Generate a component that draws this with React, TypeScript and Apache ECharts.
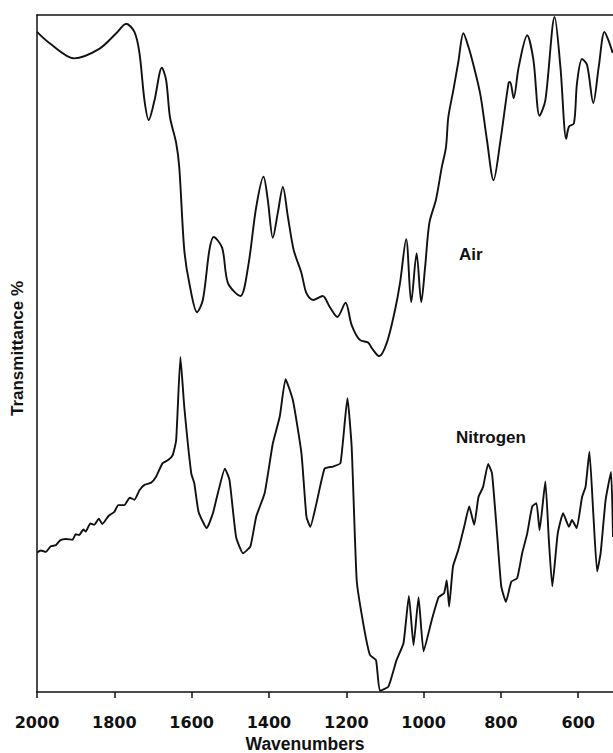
import React, { useEffect, useRef } from "react";
import * as echarts from "echarts";

// Wavenumbers (cm-1) and transmittance (arbitrary %)
const airWn = [2000, 1969, 1904, 1839, 1795, 1769, 1748, 1735, 1722, 1711, 1696, 1677, 1666, 1656, 1640, 1632, 1619, 1606, 1586, 1571, 1554, 1543, 1521, 1506, 1474, 1454, 1433, 1414, 1403, 1390, 1377, 1364, 1351, 1336, 1316, 1303, 1286, 1261, 1243, 1223, 1202, 1186, 1165, 1143, 1134, 1115, 1095, 1074, 1061, 1045, 1032, 1018, 1006, 996, 985, 968, 953, 942, 936, 923, 910, 897, 884, 871, 853, 836, 819, 802, 780, 776, 767, 754, 732, 716, 700, 685, 661, 646, 631, 624, 611, 603, 590, 577, 561, 547, 532, 520, 511];
const airT = [97.5, 95.9, 93.6, 95.0, 97.3, 98.7, 97.5, 94.4, 87.4, 84.5, 87.4, 92.2, 90.4, 84.9, 81.1, 77.5, 65.3, 60.4, 56.1, 57.9, 65.3, 67.2, 65.6, 60.4, 58.5, 62.8, 71.6, 76.1, 72.7, 67.1, 70.8, 74.6, 70.2, 65.3, 61.9, 58.9, 57.9, 58.5, 56.9, 55.4, 57.5, 54.2, 52.0, 51.6, 50.8, 49.6, 51.6, 56.4, 60.4, 66.9, 57.6, 64.8, 57.6, 62.8, 69.3, 72.7, 77.5, 80.5, 84.9, 88.9, 93.1, 97.3, 95.3, 92.6, 88.2, 81.5, 75.6, 81.1, 90.0, 90.1, 87.7, 92.3, 97.0, 93.4, 85.1, 87.4, 99.7, 92.3, 81.7, 83.5, 84.0, 90.0, 93.5, 92.6, 87.0, 92.3, 97.5, 96.0, 94.4];

const n2Wn = [2000, 1990, 1977, 1965, 1951, 1940, 1926, 1908, 1900, 1891, 1880, 1874, 1862, 1852, 1840, 1831, 1815, 1800, 1790, 1774, 1760, 1748, 1735, 1722, 1705, 1692, 1675, 1660, 1649, 1640, 1629, 1619, 1601, 1593, 1582, 1561, 1545, 1532, 1514, 1502, 1485, 1467, 1448, 1433, 1411, 1390, 1372, 1357, 1338, 1316, 1303, 1293, 1277, 1256, 1234, 1215, 1197, 1186, 1173, 1156, 1139, 1123, 1113, 1091, 1070, 1052, 1038, 1026, 1013, 1000, 979, 961, 947, 940, 934, 924, 910, 895, 882, 869, 858, 846, 833, 823, 810, 799, 787, 773, 758, 745, 732, 719, 708, 700, 685, 676, 667, 653, 639, 624, 616, 604, 590, 581, 571, 561, 551, 542, 529, 515, 510];
const n2T = [20.6, 20.9, 20.7, 21.5, 21.7, 22.4, 22.6, 22.5, 23.3, 23.2, 24.0, 23.7, 24.9, 24.7, 25.6, 24.8, 26.0, 26.6, 27.6, 27.6, 28.7, 28.4, 29.8, 30.6, 30.9, 31.8, 33.8, 34.3, 35.0, 37.2, 49.5, 42.1, 32.3, 30.8, 26.6, 24.2, 26.4, 29.4, 33.0, 31.3, 22.9, 20.5, 21.5, 25.9, 29.4, 36.7, 40.7, 46.2, 43.1, 35.3, 25.9, 24.4, 27.9, 33.0, 33.3, 33.8, 43.4, 36.2, 16.5, 10.1, 5.5, 4.7, 0.2, 0.8, 4.7, 7.2, 14.2, 6.9, 14.0, 6.0, 10.6, 14.0, 14.6, 16.5, 12.6, 18.5, 21.0, 24.4, 27.4, 24.7, 28.8, 30.3, 33.7, 32.3, 23.4, 15.6, 13.3, 16.3, 16.8, 20.5, 23.4, 27.4, 27.9, 23.9, 31.1, 22.5, 15.6, 23.4, 26.4, 24.4, 25.4, 24.2, 28.8, 30.3, 35.5, 26.4, 17.8, 20.5, 28.4, 32.5, 22.9];

const xTicks = [2000, 1800, 1600, 1400, 1200, 1000, 800, 600];
const seriesNames = ["Air", "Nitrogen"];

const zip = (xs: number[], ys: number[]) => xs.map((x, i) => [x, ys[i]]);

export default function App() {
  const ref = useRef<HTMLDivElement>(null);
  useEffect(() => {
    document.body.style.margin = "0";
    const chart = echarts.init(ref.current!, undefined, { renderer: "svg" });
    const labelFont = "'Liberation Sans', Arial, sans-serif";
    chart.setOption({
      animation: false,
      backgroundColor: "#ffffff",
      grid: { left: 37, right: 0, top: 15, bottom: 61, containLabel: false, outerBoundsMode: "none" },
      xAxis: [
        {
          type: "value",
          inverse: true,
          min: 510,
          max: 2000,
          position: "bottom",
          name: "Wavenumbers",
          nameLocation: "middle",
          nameGap: 42,
          nameTextStyle: {
            fontFamily: labelFont,
            fontWeight: "bold",
            fontSize: 17.5,
            color: "#111",
            padding: [0, 40, 0, 0],
          },
          axisLine: { show: true, lineStyle: { color: "#111", width: 1.5 } },
          axisTick: {
            show: true,
            inside: false,
            length: 6,
            customValues: xTicks,
            lineStyle: { color: "#111", width: 1.5 },
          },
          axisLabel: {
            show: true,
            customValues: xTicks,
            margin: 22,
            formatter: (v: number) => String(v),
            fontFamily: "'DejaVu Sans', sans-serif",
            fontWeight: "bold",
            fontSize: 16,
            color: "#111",
          },
          splitLine: { show: false },
        },
        {
          type: "value",
          inverse: true,
          min: 510,
          max: 2000,
          position: "top",
          axisLine: { show: true, lineStyle: { color: "#111", width: 1.5 } },
          axisTick: { show: false },
          axisLabel: { show: false },
          splitLine: { show: false },
        },
      ],
      yAxis: {
        type: "value",
        min: 0,
        max: 100,
        name: "Transmittance %",
        nameLocation: "middle",
        nameGap: 11,
        nameTextStyle: {
          fontFamily: labelFont,
          fontWeight: "bold",
          fontSize: 17,
          color: "#111",
          padding: [0, 0, 0, 10],
        },
        axisLine: { show: true, lineStyle: { color: "#111", width: 1.5 } },
        axisTick: { show: false },
        axisLabel: { show: false },
        splitLine: { show: false },
      },
      series: [
        {
          name: seriesNames[0],
          type: "line",
          xAxisIndex: 0,
          data: zip(airWn, airT),
          showSymbol: false,
          smooth: 0.3,
          lineStyle: { color: "#111", width: 1.9 },
        },
        {
          name: seriesNames[1],
          type: "line",
          xAxisIndex: 0,
          data: zip(n2Wn, n2T),
          showSymbol: false,
          smooth: 0.15,
          lineStyle: { color: "#111", width: 1.9 },
        },
      ],
      graphic: [
        {
          type: "text",
          left: 459,
          top: 246,
          style: { text: seriesNames[0], font: "bold 17px 'Liberation Sans', Arial, sans-serif", fill: "#111" },
        },
        {
          type: "text",
          left: 456,
          top: 429,
          style: { text: seriesNames[1], font: "bold 17px 'Liberation Sans', Arial, sans-serif", fill: "#111" },
        },
      ],
    });
    return () => chart.dispose();
  }, []);
  return <div ref={ref} style={{ position: "fixed", left: 0, top: 0, width: 613, height: 753 }} />;
}
